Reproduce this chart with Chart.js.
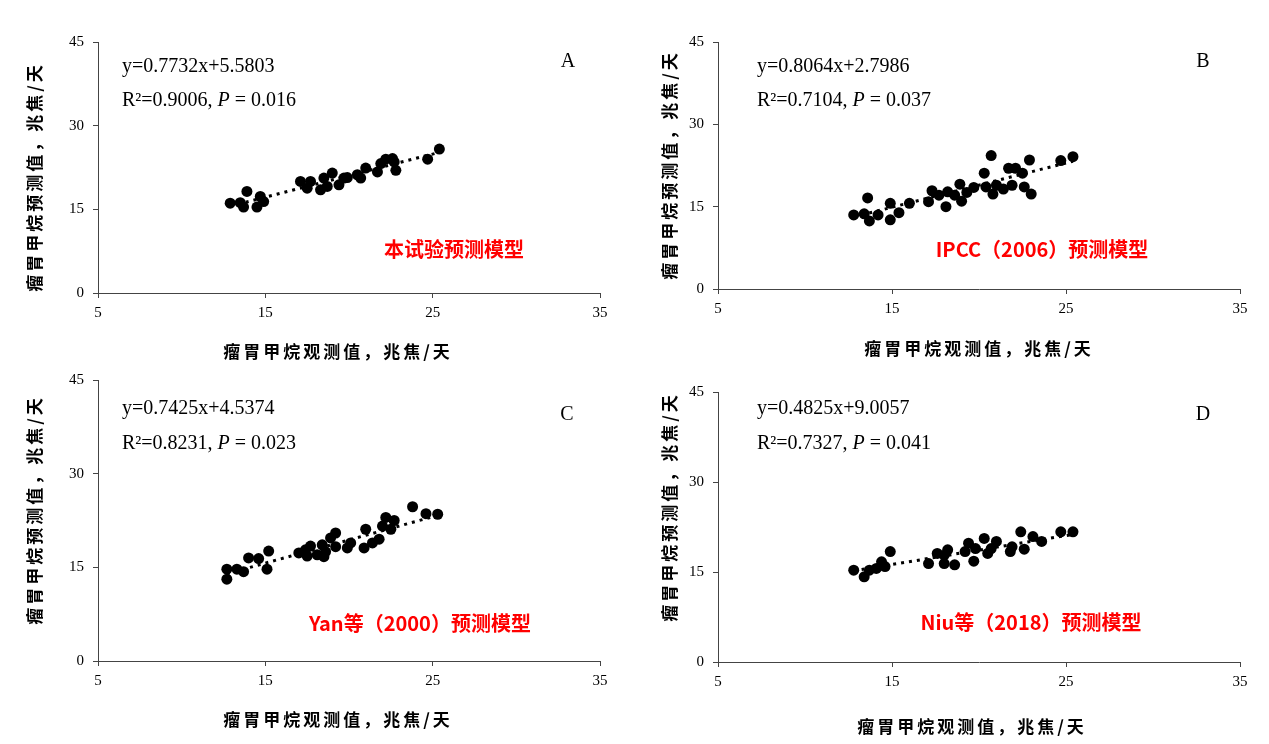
<!DOCTYPE html>
<html>
<head>
<meta charset="utf-8">
<script src="https://cdn.jsdelivr.net/npm/chart.js@4/dist/chart.umd.min.js"></script>
<style>
  html, body { margin: 0; padding: 0; background: #fff; }
  #wrap { position: relative; width: 1269px; height: 744px; }
  #wrap canvas { position: absolute; left: 0; top: 0; }
</style>
</head>
<body>
<div id="wrap">
  <canvas id="cA" width="1269" height="744"></canvas>
  <canvas id="cB" width="1269" height="744"></canvas>
  <canvas id="cC" width="1269" height="744"></canvas>
  <canvas id="cD" width="1269" height="744"></canvas>
</div>
<script>
// 刻度
const xTicks = [5, 15, 25, 35];
const yTicks = [0, 15, 30, 45];

// 观测值 / 预测值 (兆焦/天)
const obsA = [12.9, 13.5, 13.7, 13.9, 14.5, 14.7, 14.9, 17.1, 17.5, 17.7, 18.3, 18.5, 18.7, 19.0, 19.4, 19.7, 19.9, 20.5, 20.7, 21.0, 21.7, 21.9, 22.2, 22.6, 22.8, 22.7, 24.7, 25.4];
const predA = [16.1, 16.2, 15.4, 18.2, 15.4, 17.3, 16.4, 20.0, 18.8, 20.0, 18.5, 20.6, 19.1, 21.5, 19.4, 20.6, 20.7, 21.2, 20.6, 22.4, 21.7, 23.2, 24.0, 24.1, 22.0, 23.5, 24.0, 25.8];

const obsB = [12.8, 13.4, 13.6, 13.7, 14.2, 14.9, 14.9, 15.4, 16.0, 17.1, 17.3, 17.7, 18.1, 18.2, 18.6, 18.9, 19.0, 19.3, 19.7, 20.3, 20.4, 20.7, 20.8, 21.0, 21.4, 21.7, 21.9, 22.1, 22.5, 22.6, 22.9, 23.0, 24.7, 25.4];
const predB = [13.5, 13.7, 16.6, 12.4, 13.5, 15.6, 12.6, 13.9, 15.6, 15.9, 17.9, 17.1, 15.0, 17.7, 17.1, 19.1, 16.0, 17.6, 18.5, 21.1, 18.6, 24.3, 17.3, 18.9, 18.2, 22.0, 18.9, 22.0, 21.1, 18.6, 23.5, 17.3, 23.4, 24.1];

const obsC = [12.7, 12.7, 13.3, 13.7, 14.0, 14.6, 15.1, 15.2, 17.0, 17.4, 17.5, 17.7, 18.1, 18.4, 18.5, 18.6, 18.9, 19.2, 19.2, 19.9, 20.1, 21.0, 20.9, 21.4, 21.8, 22.0, 22.2, 22.5, 22.7, 23.8, 24.6, 25.3];
const predC = [14.7, 13.1, 14.7, 14.3, 16.5, 16.4, 14.7, 17.6, 17.3, 17.8, 16.8, 18.4, 17.0, 18.6, 16.7, 17.5, 19.7, 20.5, 18.3, 18.1, 18.9, 21.1, 18.1, 18.9, 19.5, 21.6, 23.0, 21.1, 22.5, 24.7, 23.6, 23.5];

const obsD = [12.8, 13.4, 13.7, 14.1, 14.4, 14.6, 14.9, 17.1, 17.6, 18.0, 18.2, 18.0, 18.6, 19.2, 19.4, 19.7, 19.8, 20.3, 20.5, 20.7, 21.0, 21.8, 21.9, 22.4, 22.6, 23.1, 23.6, 24.7, 25.4];
const predD = [15.3, 14.2, 15.3, 15.6, 16.7, 15.9, 18.4, 16.4, 18.1, 17.8, 18.7, 16.4, 16.2, 18.4, 19.8, 16.8, 18.9, 20.6, 18.1, 18.9, 20.1, 18.4, 19.2, 21.7, 18.8, 20.9, 20.1, 21.7, 21.7];

// 回归方程
const slopes = [0.7732, 0.8064, 0.7425, 0.4825];
const intercepts = [5.5803, 2.7986, 4.5374, 9.0057];
const eqTexts = ['y=0.7732x+5.5803', 'y=0.8064x+2.7986', 'y=0.7425x+4.5374', 'y=0.4825x+9.0057'];
const r2Texts = ['0.9006', '0.7104', '0.8231', '0.7327'];
const pTexts = ['0.016', '0.037', '0.023', '0.041'];
const letters = ['A', 'B', 'C', 'D'];
const modelNames = ['本试验预测模型', 'IPCC（2006）预测模型', 'Yan等（2000）预测模型', 'Niu等（2018）预测模型'];
const xTitle = '瘤胃甲烷观测值，兆焦/天';
const yTitle = '瘤胃甲烷预测值，兆焦/天';

const obsAll = [obsA, obsB, obsC, obsD];
const predAll = [predA, predB, predC, predD];

// 各图的绘图区 (页面像素) 和文字位置
const panels = [
  { area: [98, 42, 600, 293], eq: [122, 67, 101], letter: [568, 62], model: [454, 249], xt: [338, 352], yt: [35, 177] },
  { area: [718, 42, 1240, 289], eq: [757, 67, 101], letter: [1203, 62], model: [1042, 249], xt: [979, 349], yt: [670, 165] },
  { area: [98, 380, 600, 661], eq: [122, 409, 444], letter: [567, 415], model: [420, 623], xt: [338, 720], yt: [35, 510] },
  { area: [718, 392, 1240, 662], eq: [757, 409, 444], letter: [1203, 415], model: [1031, 622], xt: [972, 727], yt: [670, 507] }
];

const SERIF = '"Liberation Serif", "Times New Roman", serif';
const CJK = '"Noto Sans CJK SC", "Noto Sans", sans-serif';
const W = 1269, H = 744, AXW = 30;

// 文字を描く plugin
const textPlugin = {
  id: 'texts',
  afterDraw(chart) {
    const i = chart.options.plugins.texts.idx;
    const p = panels[i];
    const ctx = chart.ctx;
    ctx.save();
    ctx.fillStyle = '#000';
    ctx.textBaseline = 'middle';
    ctx.textAlign = 'left';
    ctx.font = '20px ' + SERIF;
    ctx.fillText(eqTexts[i], p.eq[0], p.eq[1]);
    // R2 行
    let x = p.eq[0];
    const s1 = 'R²=' + r2Texts[i] + ', ';
    ctx.fillText(s1, x, p.eq[2]);
    x += ctx.measureText(s1).width;
    ctx.font = 'italic 20px ' + SERIF;
    ctx.fillText('P', x, p.eq[2]);
    x += ctx.measureText('P').width;
    ctx.font = '20px ' + SERIF;
    ctx.fillText(' = ' + pTexts[i], x, p.eq[2]);
    // 字母
    ctx.textAlign = 'center';
    ctx.fillText(letters[i], p.letter[0], p.letter[1]);
    // 模型名
    ctx.fillStyle = '#ff0000';
    ctx.font = 'bold 20px ' + CJK;
    ctx.fillText(modelNames[i], p.model[0], p.model[1]);
    // 坐标轴标题
    ctx.fillStyle = '#000';
    ctx.font = 'bold 17px ' + CJK;
    ctx.letterSpacing = '3px';
    ctx.fillText(xTitle, p.xt[0], p.xt[1]);
    ctx.translate(p.yt[0], p.yt[1]);
    ctx.rotate(-Math.PI / 2);
    ctx.fillText(yTitle, 0, 0);
    ctx.restore();
  }
};

function makeChart(id, i) {
  const obs = obsAll[i], pred = predAll[i];
  const pts = obs.map((v, k) => ({ x: v, y: pred[k] }));
  const x0 = Math.min(...obs), x1 = Math.max(...obs);
  const trend = [
    { x: x0, y: slopes[i] * x0 + intercepts[i] },
    { x: x1, y: slopes[i] * x1 + intercepts[i] }
  ];
  const a = panels[i].area;
  return new Chart(document.getElementById(id), {
    type: 'scatter',
    data: {
      datasets: [
        {
          data: pts,
          backgroundColor: '#000',
          borderColor: '#000',
          pointRadius: 5.5,
          pointBorderWidth: 0,
          order: 1
        },
        {
          type: 'line',
          data: trend,
          borderColor: '#000',
          borderWidth: 3,
          borderDash: [3, 5],
          pointRadius: 0,
          fill: false,
          order: 2
        }
      ]
    },
    options: {
      responsive: false,
      animation: false,
      devicePixelRatio: 1,
      layout: {
        padding: { left: a[0] - AXW, top: a[1], right: W - a[2], bottom: H - a[3] - AXW }
      },
      plugins: {
        legend: { display: false },
        tooltip: { enabled: false },
        texts: { idx: i }
      },
      scales: {
        x: {
          type: 'linear',
          min: 5, max: 35,
          afterBuildTicks: (s) => { s.ticks = xTicks.map(v => ({ value: v })); },
          afterFit: (s) => { s.height = AXW; },
          grid: { drawOnChartArea: false, drawTicks: true, tickLength: 5, color: '#444' },
          border: { color: '#444', width: 1 },
          ticks: { color: '#000', font: { family: SERIF, size: 15 }, padding: 6 }
        },
        y: {
          min: 0, max: 45,
          afterBuildTicks: (s) => { s.ticks = yTicks.map(v => ({ value: v })); },
          afterFit: (s) => { s.width = AXW; },
          grid: { drawOnChartArea: false, drawTicks: true, tickLength: 5, color: '#444' },
          border: { color: '#444', width: 1 },
          ticks: { color: '#000', font: { family: SERIF, size: 15 }, padding: 9 }
        }
      }
    },
    plugins: [textPlugin]
  });
}

makeChart('cA', 0);
makeChart('cB', 1);
makeChart('cC', 2);
makeChart('cD', 3);
</script>
</body>
</html>
